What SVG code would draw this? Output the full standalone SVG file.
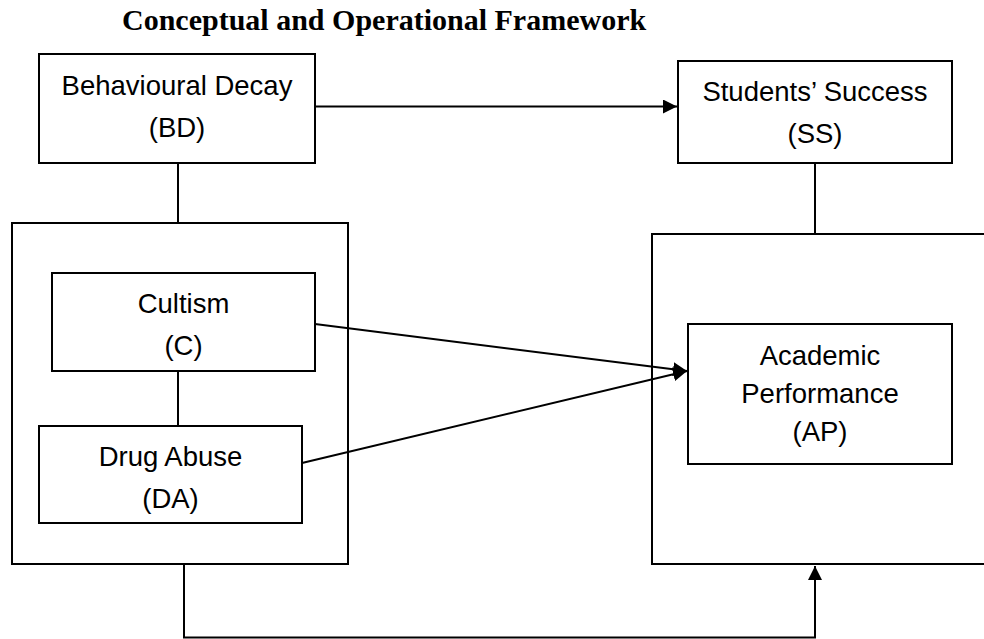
<svg xmlns="http://www.w3.org/2000/svg" width="984" height="639" viewBox="0 0 984 639">
  <style>
    .box { fill: #ffffff; stroke: #000000; stroke-width: 2; }
    .line { fill: none; stroke: #000000; stroke-width: 2; }
    .label { font-family: "Liberation Sans", Arial, sans-serif; font-size: 27.5px; fill: #000000; text-anchor: middle; }
    .title { font-family: "Liberation Serif", "Times New Roman", serif; font-size: 30px; font-weight: bold; fill: #000000; }
  </style>
  <defs>
    <marker id="arrow" markerUnits="userSpaceOnUse" markerWidth="15" markerHeight="14" refX="14" refY="7" orient="auto">
      <path d="M0,0 L14,7 L0,14 Z" fill="#000000"/>
    </marker>
  </defs>

  <rect width="984" height="639" fill="#ffffff"/>

  <text class="title" x="122" y="30">Conceptual and Operational Framework</text>

  <!-- outer grouping frames -->
  <g id="frame-left">
    <rect class="box" x="12" y="223" width="336" height="341"/>
  </g>
  <g id="frame-right">
    <rect class="box" x="652" y="234" width="345" height="330"/>
  </g>

  <!-- connectors -->
  <g id="connectors">
    <line class="line" x1="315" y1="106.5" x2="677" y2="106.5" marker-end="url(#arrow)"/>
    <line class="line" x1="178" y1="163" x2="178" y2="223"/>
    <line class="line" x1="815" y1="163" x2="815" y2="234"/>
    <line class="line" x1="178" y1="371" x2="178" y2="426"/>
    <line class="line" x1="315" y1="324" x2="687" y2="371" marker-end="url(#arrow)"/>
    <line class="line" x1="302" y1="463" x2="687" y2="371" marker-end="url(#arrow)"/>
    <polyline class="line" points="184,564 184,637.5 815,637.5 815,566" marker-end="url(#arrow)"/>
  </g>

  <g id="node-bd">
    <rect class="box" x="39" y="54" width="276" height="109"/>
    <text class="label" x="177" y="95">Behavioural Decay</text>
    <text class="label" x="177" y="137">(BD)</text>
  </g>

  <g id="node-ss">
    <rect class="box" x="678" y="61" width="274" height="102"/>
    <text class="label" x="815" y="101">Students’ Success</text>
    <text class="label" x="815" y="143">(SS)</text>
  </g>

  <g id="node-c">
    <rect class="box" x="52" y="273" width="263" height="98"/>
    <text class="label" x="183.5" y="313">Cultism</text>
    <text class="label" x="183.5" y="355">(C)</text>
  </g>

  <g id="node-da">
    <rect class="box" x="39" y="426" width="263" height="97"/>
    <text class="label" x="170.5" y="466">Drug Abuse</text>
    <text class="label" x="170.5" y="508">(DA)</text>
  </g>

  <g id="node-ap">
    <rect class="box" x="688" y="324" width="264" height="140"/>
    <text class="label" x="820" y="365">Academic</text>
    <text class="label" x="820" y="403">Performance</text>
    <text class="label" x="820" y="441">(AP)</text>
  </g>
</svg>
